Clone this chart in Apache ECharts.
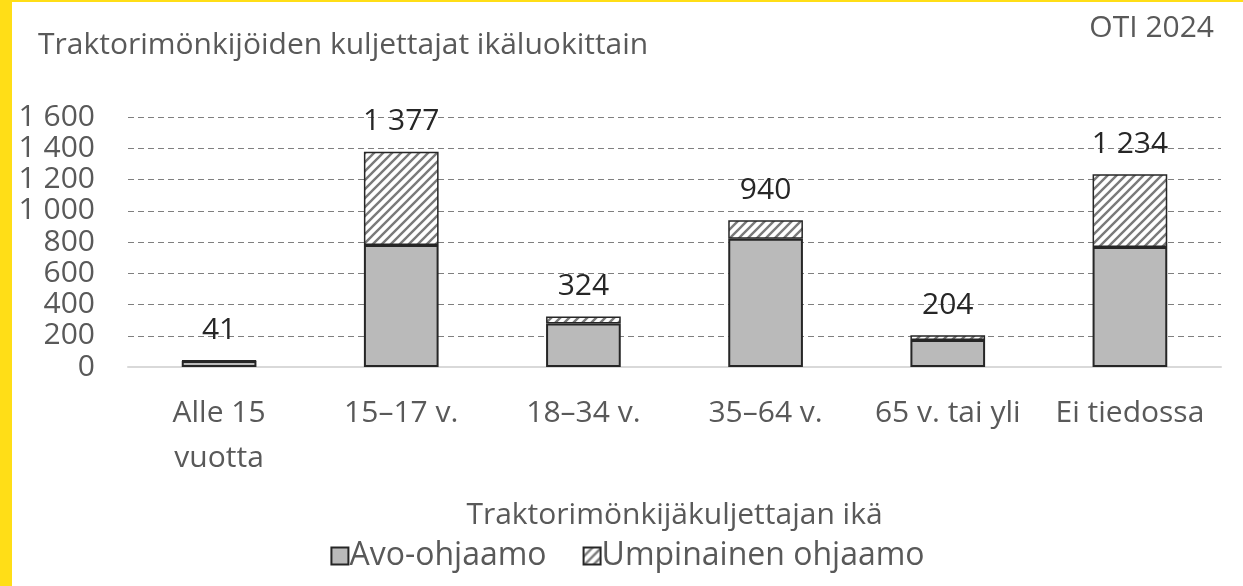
<!DOCTYPE html>
<html>
<head>
<meta charset="utf-8">
<script src="https://cdn.jsdelivr.net/npm/echarts@6/dist/echarts.min.js"></script>
<style>
  html, body { margin: 0; padding: 0; background: #fff; }
  .frame {
    width: 1231px;
    height: 584px;
    border-left: 12px solid #ffde17;
    border-top: 2px solid #ffde17;
    position: relative;
  }
  #chart { width: 1231px; height: 584px; }
</style>
</head>
<body>
<div class="frame">
  <div id="chart"></div>
</div>
<script>
const categories = ['Alle 15\nvuotta', '15–17 v.', '18–34 v.', '35–64 v.', '65 v. tai yli', 'Ei tiedossa']
const avoOhjaamo = [38, 781, 278, 821, 173, 768]
const umpinainenOhjaamo = [3, 596, 46, 119, 31, 466]
const seriesNames = ['Avo-ohjaamo', 'Umpinainen ohjaamo']
const yTicks = { min: 0, max: 1600, interval: 200 }

const textGray = '#595959'
const font = '"Open Sans", "Noto Sans", sans-serif'

// "1 377" style thousands separator
function fmt(v) {
  return String(v).replace(/\B(?=(\d{3})+(?!\d))/g, ' ')
}

// hatch pattern for the closed cabin series
function makeHatch() {
  const c = document.createElement('canvas')
  c.width = 9
  c.height = 9
  const ctx = c.getContext('2d')
  ctx.fillStyle = '#ffffff'
  ctx.fillRect(0, 0, 9, 9)
  ctx.strokeStyle = '#7a7a7a'
  ctx.lineWidth = 2.4
  ctx.beginPath()
  ctx.moveTo(0, 9); ctx.lineTo(9, 0)
  ctx.moveTo(-2, 2); ctx.lineTo(2, -2)
  ctx.moveTo(7, 11); ctx.lineTo(11, 7)
  ctx.stroke()
  return c
}

const chart = echarts.init(document.getElementById('chart'))
const option = {
  animation: false,
  textStyle: { fontFamily: font },
  title: [
    {
      text: 'Traktorimönkijöiden kuljettajat ikäluokittain',
      left: 21,
      top: 23,
      textStyle: { color: textGray, fontSize: 30, fontWeight: 'normal', fontFamily: font }
    },
    {
      text: 'OTI 2024',
      right: 24,
      top: 6,
      textStyle: { color: textGray, fontSize: 30, fontWeight: 'normal', fontFamily: font }
    }
  ],
  legend: {
    bottom: 9,
    left: 'center',
    itemWidth: 17,
    itemHeight: 17,
    itemGap: 36,
    icon: 'rect',
    textStyle: { color: textGray, fontSize: 32, fontFamily: font, padding: [0, 0, 0, -4] },
    data: seriesNames
  },
  grid: {
    left: 116,
    right: 22,
    top: 115,
    bottom: 219
  },
  xAxis: {
    type: 'category',
    data: categories,
    name: 'Traktorimönkijäkuljettajan ikä',
    nameLocation: 'middle',
    nameGap: 133,
    nameTextStyle: { color: textGray, fontSize: 30, fontFamily: font },
    axisLine: { lineStyle: { color: '#d9d9d9', width: 2 } },
    axisTick: { show: false },
    axisLabel: {
      color: textGray,
      fontSize: 30,
      lineHeight: 45,
      margin: 24,
      interval: 0
    }
  },
  yAxis: {
    type: 'value',
    min: yTicks.min,
    max: yTicks.max,
    interval: yTicks.interval,
    axisLine: { show: false },
    axisTick: { show: false },
    axisLabel: {
      color: textGray,
      fontSize: 30,
      margin: 33,
      formatter: v => fmt(v)
    },
    splitLine: { lineStyle: { color: '#7f7f7f', type: [6, 4], width: 1 } }
  },
  series: [
    {
      name: seriesNames[0],
      type: 'bar',
      stack: 'total',
      barWidth: '41%',
      data: avoOhjaamo,
      itemStyle: { color: '#bababa', borderColor: '#262626', borderWidth: 2 }
    },
    {
      name: seriesNames[1],
      type: 'bar',
      stack: 'total',
      barWidth: '41%',
      data: umpinainenOhjaamo,
      itemStyle: {
        color: { image: makeHatch(), repeat: 'repeat' },
        borderColor: '#262626',
        borderWidth: 1.5
      },
      label: {
        show: true,
        position: 'top',
        distance: 15,
        color: '#262626',
        fontSize: 30,
        fontFamily: font,
        formatter: p => fmt(avoOhjaamo[p.dataIndex] + umpinainenOhjaamo[p.dataIndex])
      }
    }
  ]
}
chart.setOption(option)
</script>
</body>
</html>
